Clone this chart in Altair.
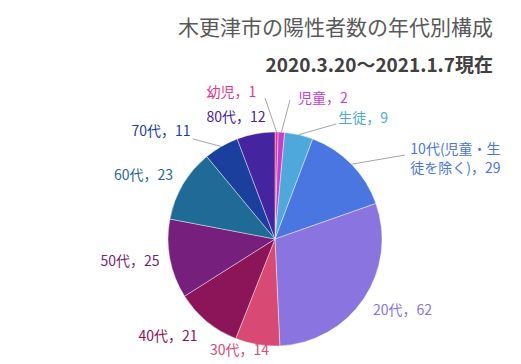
import altair as alt
import pandas as pd

FONT = "Noto Sans CJK JP"

# ---- data ----
categories = ["幼児", "児童", "生徒", "10代(児童・生徒を除く)", "20代", "30代",
              "40代", "50代", "60代", "70代", "80代"]
label_names = ["幼児", "児童", "生徒", "10代(児童・生\n徒を除く)", "20代", "30代",
               "40代", "50代", "60代", "70代", "80代"]
values = [1, 2, 9, 29, 62, 14, 21, 25, 23, 11, 12]
colors = ["#e8358e", "#c83ccc", "#4ea8dc", "#4a76e2", "#8a74e0", "#d84a74",
          "#8c1458", "#761f7c", "#1f6a96", "#1b3f9c", "#4524a0"]

title_text = "木更津市の陽性者数の年代別構成"
subtitle_text = "2020.3.20～2021.1.7現在"

# ---- layout (label nudges from default position, leader-line end offsets) ----
nudge_x = [-45.7, 39.3, 55.6, 76.8, 7.3, -11.6, -14.5, -2.6, -6.6, -41.2, -13.0]
nudge_y = [-1.5, 4.7, 21.3, 12.4, -9.1, -31.0, -13.2, -3.6, 10.7, 18.4, 21.2]
lead_dx = [33.5, -33.0, -27.0, -50.5, None, None, None, None, None, 32.0, None]
lead_dy = [5.5, 1.0, 5.0, 5.0, None, None, None, None, None, 7.0, None]

CX, CY, R, LR = 267, 231, 107, 145

df = pd.DataFrame({
    "category": categories,
    "value": values,
    "order": list(range(len(categories))),
    "label": [f"{n}，{v}" for n, v in zip(label_names, values)],
    "nx": nudge_x,
    "ny": nudge_y,
    "ldx": lead_dx,
    "ldy": lead_dy,
})

color_scale = alt.Scale(domain=categories, range=colors)

base = (
    alt.Chart(df)
    .transform_window(cum="sum(value)", sort=[alt.SortField("order")], frame=[None, 0])
    .transform_joinaggregate(total="sum(value)")
    .transform_calculate(
        mid="2*PI*(datum.cum - datum.value/2)/datum.total",
    )
    .transform_calculate(
        lx=f"{CX} + {LR}*sin(datum.mid) + datum.nx",
        ly=f"{CY} - {LR}*cos(datum.mid) + datum.ny",
        ex=f"{CX} + {R}*sin(datum.mid)",
        ey=f"{CY} - {R}*cos(datum.mid)",
    )
    .transform_calculate(
        ex2="datum.lx + datum.ldx",
        ey2="datum.ly + datum.ldy",
    )
)

pie = alt.Chart(df).mark_arc(radius=R, stroke="white", strokeWidth=0.6, strokeOpacity=0.7).encode(
    theta=alt.Theta("value:Q", stack=True),
    order=alt.Order("order:Q"),
    color=alt.Color("category:N", scale=color_scale, legend=None),
    x=alt.value(CX),
    y=alt.value(CY),
)

leaders = base.transform_filter("isValid(datum.ldx)").mark_rule(
    color="#a6a6a6", strokeWidth=1
).encode(
    x=alt.X("ex:Q", scale=None, axis=None),
    y=alt.Y("ey:Q", scale=None, axis=None),
    x2="ex2:Q",
    y2="ey2:Q",
)

labels = base.mark_text(
    font=FONT, fontSize=14, align="center", baseline="middle",
    lineBreak="\n", lineHeight=19,
).encode(
    x=alt.X("lx:Q", scale=None, axis=None),
    y=alt.Y("ly:Q", scale=None, axis=None),
    text="label:N",
    color=alt.Color("category:N", scale=color_scale, legend=None),
)

title = alt.Chart(pd.DataFrame({"t": [title_text]})).mark_text(
    font=FONT, fontSize=21, align="right", baseline="middle", color="#595959"
).encode(text="t:N", x=alt.value(485), y=alt.value(21))

subtitle = alt.Chart(pd.DataFrame({"t": [subtitle_text]})).mark_text(
    font=FONT, fontSize=19, fontWeight="bold", align="right", baseline="middle", color="#404040"
).encode(text="t:N", x=alt.value(485), y=alt.value(57.5))

chart = (
    alt.layer(pie, leaders, labels, title, subtitle)
    .properties(
        width=505, height=356, padding=0,
        autosize=alt.AutoSizeParams(type="fit", contains="padding"),
        background="white",
    )
    .configure_view(stroke=None)
)

chart.save("out.html", embed_options={"renderer": "svg", "actions": False})
